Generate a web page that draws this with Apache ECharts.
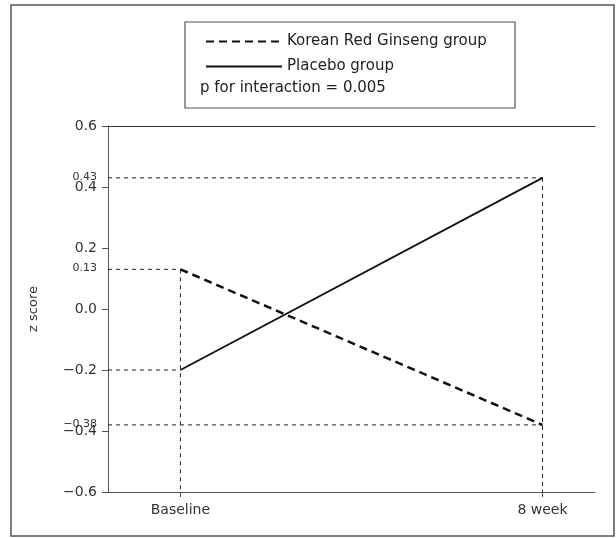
<!DOCTYPE html>
<html>
<head>
<meta charset="utf-8">
<script src="https://cdn.jsdelivr.net/npm/echarts@6/dist/echarts.min.js"></script>
<style>html,body{margin:0;padding:0;background:#fff;}#c{width:616px;height:538px;}</style>
</head>
<body>
<div id="c"></div>
<script>
const categories = ['Baseline', '8 week'];
const krgValues = [0.13, -0.38];
const placeboValues = [-0.2, 0.43];
const yTickValues = [-0.6, -0.4, -0.2, 0, 0.2, 0.4, 0.6];
const markedValues = [0.43, 0.13, -0.38];
const seriesNames = ['Korean Red Ginseng group', 'Placebo group'];
const noteText = 'p for interaction = 0.005';

const X_MIN = -0.2, X_MAX = 1.145, Y_MIN = -0.6, Y_MAX = 0.6;
const FONT = 'DejaVu Sans';
const fmt = (v, d) => (v < 0 ? '\u2212' : '') + Math.abs(v).toFixed(d);

const guide = {color: '#222', width: 1, type: [4, 4]};
const guideSeries = [];
[krgValues, placeboValues].forEach(vals => {
  vals.forEach((v, i) => {
    guideSeries.push({type: 'line', symbol: 'none', silent: true, z: 1,
      lineStyle: guide, data: [[X_MIN, v], [i, v]]});
  });
});
categories.forEach((c, i) => {
  const top = Math.max(krgValues[i], placeboValues[i]);
  guideSeries.push({type: 'line', symbol: 'none', silent: true, z: 1,
    lineStyle: guide, data: [[i, top], [i, Y_MIN]]});
});

const chart = echarts.init(document.getElementById('c'));
chart.setOption({
  animation: false,
  textStyle: {fontFamily: FONT},
  grid: {left: 108, right: 21, top: 126, bottom: 46},
  graphic: [
    {type: 'rect', shape: {x: 11, y: 5, width: 603, height: 531},
     style: {fill: 'none', stroke: '#555', lineWidth: 1.5}, z: 0},
    {type: 'rect', shape: {x: 185, y: 22, width: 330, height: 86},
     style: {fill: 'none', stroke: '#555', lineWidth: 1.2}, z: 0},
    {type: 'text', left: 200, top: 81,
     style: {text: noteText, font: '15px "' + FONT + '"', fill: '#222'}}
  ],
  legend: {
    orient: 'vertical', left: 200, top: 29, itemWidth: 76, itemHeight: 14, itemGap: 10,
    itemStyle: {opacity: 0},
    textStyle: {fontSize: 15, color: '#222', fontFamily: FONT},
    data: seriesNames
  },
  xAxis: [
    {type: 'value', min: X_MIN, max: X_MAX, position: 'bottom',
     axisLine: {show: true, onZero: false, lineStyle: {color: '#555', width: 1}},
     axisTick: {show: true, length: 5, lineStyle: {color: '#555'}, customValues: [0, 1]},
     axisLabel: {customValues: [0, 1], formatter: v => categories[Math.round(v)] || '',
       fontSize: 14, color: '#333', margin: 11},
     splitLine: {show: false}},
    {type: 'value', min: X_MIN, max: X_MAX, position: 'top',
     axisLine: {show: true, onZero: false, lineStyle: {color: '#333', width: 1}},
     axisTick: {show: false}, axisLabel: {show: false}, splitLine: {show: false}}
  ],
  yAxis: [
    {type: 'value', min: Y_MIN, max: Y_MAX, interval: 0.2,
     name: 'z score', nameLocation: 'middle', nameGap: 68, nameRotate: 90,
     nameTextStyle: {fontSize: 13, color: '#333', fontFamily: FONT},
     axisLine: {show: true, onZero: false, lineStyle: {color: '#555', width: 1}},
     axisTick: {show: true, length: 6, lineStyle: {color: '#555'}, customValues: yTickValues},
     axisLabel: {customValues: yTickValues, formatter: v => fmt(v, 1), fontSize: 14, color: '#333', margin: 11},
     splitLine: {show: false}},
    {type: 'value', min: Y_MIN, max: Y_MAX, position: 'left',
     axisLine: {show: false, onZero: false}, axisTick: {show: false}, splitLine: {show: false},
     axisLabel: {customValues: markedValues, formatter: v => fmt(v, 2), fontSize: 11,
       color: '#333', margin: 11, verticalAlign: 'bottom', lineHeight: 12, padding: [0, 0, -5, 0]}}
  ],
  series: [
    ...guideSeries,
    {name: seriesNames[0], type: 'line', symbol: 'none', z: 3,
     lineStyle: {color: '#111', width: 2.5, type: [8, 5]},
     itemStyle: {color: '#111'},
     data: krgValues.map((v, i) => [i, v])},
    {name: seriesNames[1], type: 'line', symbol: 'none', z: 3,
     lineStyle: {color: '#111', width: 1.8, type: 'solid'},
     itemStyle: {color: '#111'},
     data: placeboValues.map((v, i) => [i, v])}
  ]
});
</script>
</body>
</html>
